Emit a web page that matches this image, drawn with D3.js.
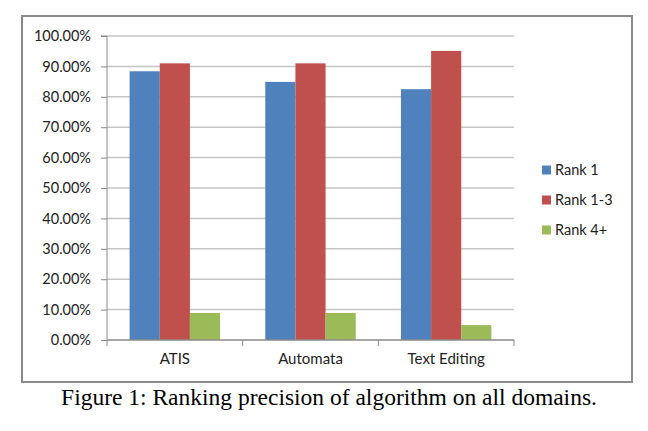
<!DOCTYPE html>
<html lang="en">
<head>
  <meta charset="UTF-8">
  <title>Ranking precision of algorithm on all domains</title>
  <style>
    body { margin: 0; background: #fff; }
    .tick text { font-family: Lato, "Open Sans", sans-serif; font-size: 14.5px; fill: #222; }
  </style>
  <script src="https://d3js.org/d3.v7.min.js"></script>
</head>
<body>
  <svg id="chart" width="648" height="431"></svg>
  <script>
    // Data
    const categories = ["ATIS", "Automata", "Text Editing"];
    const seriesNames = ["Rank 1", "Rank 1-3", "Rank 4+"];
    const rank1 = [0.884, 0.849, 0.825];
    const rank13 = [0.91, 0.91, 0.951];
    const rank4 = [0.089, 0.089, 0.049];
    const yTicks = [0, 0.1, 0.2, 0.3, 0.4, 0.5, 0.6, 0.7, 0.8, 0.9, 1.0];
    const colors = ["#4F81BD", "#C0504D", "#9BBB59"];

    const series = [rank1, rank13, rank4];
    const rows = categories.map((c, i) => ({cat: c, vals: series.map(s => s[i])}));

    const margin = {top: 36, right: 134, bottom: 91, left: 107};
    const width = 648, height = 431;

    const svg = d3.select("#chart");

    // outer frame
    svg.append("rect")
      .attr("x", 22).attr("y", 16)
      .attr("width", 610).attr("height", 366)
      .attr("fill", "none")
      .attr("stroke", "#8a8a8a")
      .attr("stroke-width", 2);

    const x0 = d3.scaleBand()
      .domain(categories)
      .range([margin.left, width - margin.right])
      .paddingInner(0).paddingOuter(0);

    const x1 = d3.scaleBand()
      .domain(d3.range(seriesNames.length))
      .range([0, x0.bandwidth()])
      .paddingInner(0)
      .paddingOuter(0.75);

    const y = d3.scaleLinear()
      .domain([0, 1])
      .range([height - margin.bottom, margin.top]);

    // gridlines
    svg.append("g")
      .selectAll("line")
      .data(yTicks.slice(1))
      .enter().append("line")
      .attr("x1", margin.left).attr("x2", width - margin.right)
      .attr("y1", d => y(d)).attr("y2", d => y(d))
      .attr("stroke", "#c4c4c4")
      .attr("stroke-width", 1.5);

    // y axis
    const yAxis = svg.append("g")
      .attr("transform", `translate(${margin.left},0)`)
      .call(d3.axisLeft(y).tickValues(yTicks).tickFormat(d3.format(".2%")).tickSize(6).tickPadding(10));
    yAxis.selectAll("line, path").attr("stroke", "#8a8a8a");
    yAxis.select(".domain").attr("d", `M-6,${y(1)}H0V${y(0)}`);

    // bars
    svg.append("g")
      .selectAll("g")
      .data(rows)
      .enter().append("g")
      .attr("transform", d => `translate(${x0(d.cat)},0)`)
      .selectAll("rect")
      .data(d => d.vals)
      .enter().append("rect")
      .attr("x", (d, i) => x1(i))
      .attr("width", x1.bandwidth())
      .attr("y", d => y(d))
      .attr("height", d => y(0) - y(d))
      .attr("fill", (d, i) => colors[i]);

    // x axis
    const xAxis = svg.append("g")
      .attr("transform", `translate(0,${y(0)})`)
      .call(d3.axisBottom(x0).tickSize(0).tickPadding(13));
    xAxis.selectAll(".tick text").style("font-size", "15px");
    xAxis.select(".domain").attr("stroke", "#8a8a8a").attr("stroke-width", 1.5)
      .attr("d", `M${margin.left},0H${width - margin.right}`);
    xAxis.selectAll(".sep")
      .data(categories)
      .enter().append("line")
      .attr("x1", d => x0(d) + x0.bandwidth()).attr("x2", d => x0(d) + x0.bandwidth())
      .attr("y1", 0).attr("y2", 6)
      .attr("stroke", "#8a8a8a");
    xAxis.append("line")
      .attr("x1", margin.left).attr("x2", margin.left)
      .attr("y1", 0).attr("y2", 6)
      .attr("stroke", "#8a8a8a");

    // legend
    const legend = svg.append("g")
      .selectAll("g")
      .data(seriesNames)
      .enter().append("g")
      .attr("transform", (d, i) => `translate(542,${170 + i * 30})`);
    legend.append("rect")
      .attr("x", 0).attr("y", -4.5)
      .attr("width", 9).attr("height", 9)
      .attr("fill", (d, i) => colors[i]);
    legend.append("text")
      .attr("x", 13).attr("y", 0)
      .attr("dy", "0.35em")
      .style("font-family", "Lato, 'Open Sans', sans-serif")
      .style("font-size", "14.5px")
      .attr("fill", "#222")
      .text(d => d);

    // caption
    svg.append("text")
      .attr("x", 329).attr("y", 405)
      .attr("text-anchor", "middle")
      .style("font-family", "'Liberation Serif', 'DejaVu Serif', serif")
      .style("font-size", "23.5px")
      .attr("fill", "#000")
      .text("Figure 1: Ranking precision of algorithm on all domains.");
  </script>
</body>
</html>
